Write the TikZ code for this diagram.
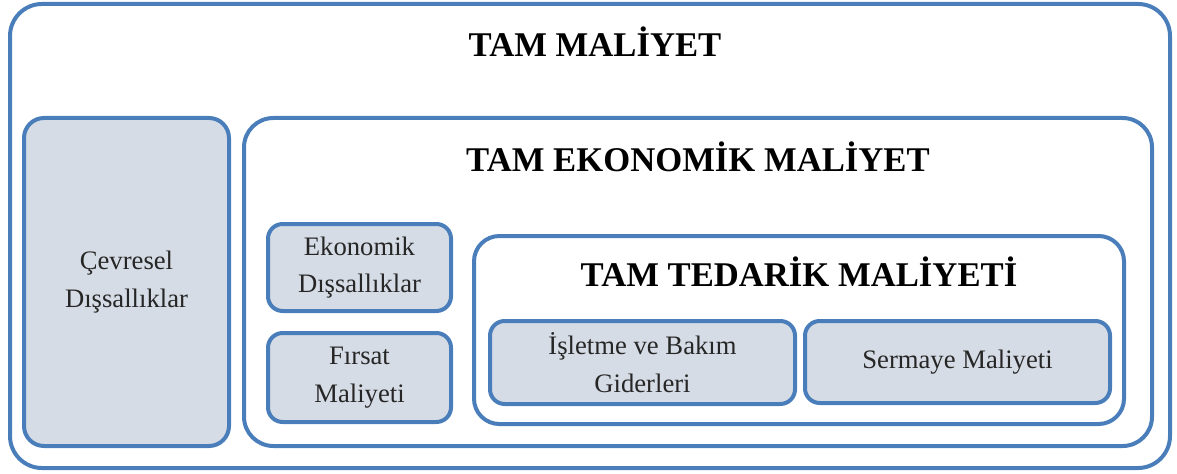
\documentclass[tikz,border=0pt]{standalone}
\usepackage{fontspec}
\setmainfont{Liberation Serif}
\definecolor{boxline}{HTML}{4A7EBB}
\definecolor{boxfill}{HTML}{D6DCE5}
\tikzset{
    bigbox/.style={draw=boxline, line width=3pt, rounded corners=22pt, inner sep=0pt},
    smallbox/.style={bigbox, fill=boxfill, rounded corners=11pt, align=center,
        text=black!85, font=\fontsize{20}{28}\selectfont},
    heading/.style={font=\bfseries\fontsize{26}{30}\selectfont}
}
\begin{document}
\begin{tikzpicture}[x=0.75pt, y=-0.75pt]
        \useasboundingbox (0, 0) rectangle (1177, 474);

        % Outer frame
        \node[bigbox, rounded corners=24pt, minimum width=870pt, minimum height=348pt] (tam) at (590, 236) {};
        \node[heading] (tamtitle) at (595, 42) {TAM MALİYET};

        % Environmental externalities
        \node[smallbox, rounded corners=15pt, minimum width=153.75pt, minimum height=246pt] (cevre) at (126.5, 282) {Çevresel\\Dışsallıklar};

        % Full economic cost
        \node[bigbox, minimum width=681pt, minimum height=246pt] (ekon) at (698, 282) {};
        \node[heading] (ekontitle) at (698, 157) {TAM EKONOMİK MALİYET};

        \node[smallbox, minimum width=137.25pt, minimum height=65.25pt] (ekdis) at (359.5, 267.5) {Ekonomik\\Dışsallıklar};
        \node[smallbox, minimum width=137.25pt, minimum height=66.75pt] (firsat) at (359.5, 377.5) {Fırsat\\Maliyeti};

        % Full supply cost
        \node[bigbox, rounded corners=19pt, minimum width=487.5pt, minimum height=141pt] (tedarik) at (799, 330) {};
        \node[heading] (tedariktitle) at (799, 272) {TAM TEDARİK MALİYETİ};

        \node[smallbox, minimum width=228.75pt, minimum height=62.25pt] (isletme) at (642.5, 362.5) {İşletme ve Bakım\\Giderleri};
        \node[smallbox, minimum width=228.75pt, minimum height=61.5pt] (sermaye) at (957.5, 362) {Sermaye Maliyeti};

    \end{tikzpicture}
\end{document}
